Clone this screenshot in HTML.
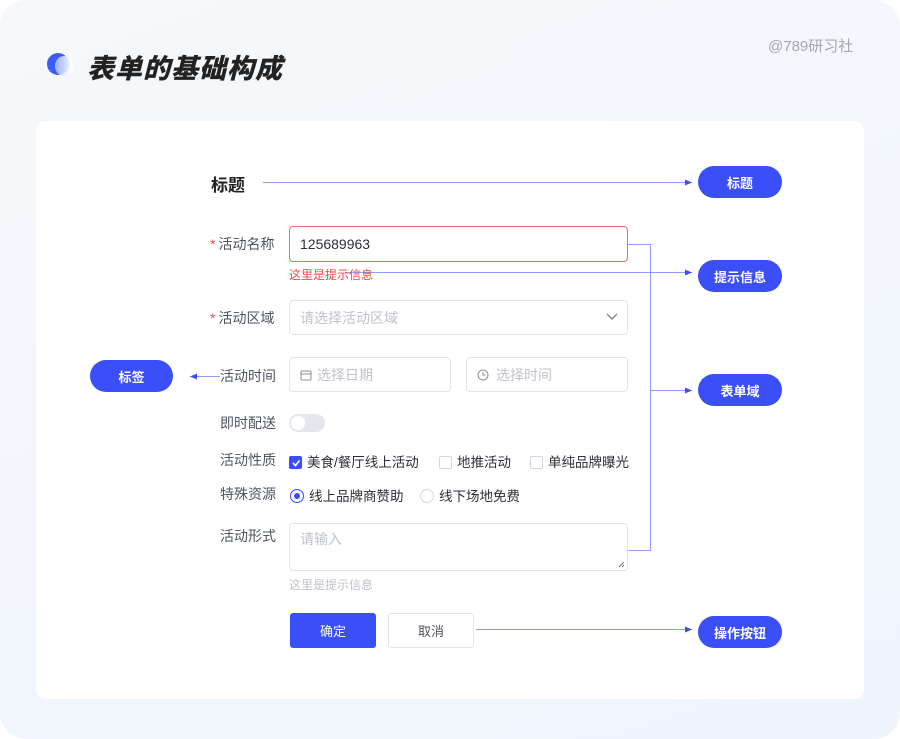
<!DOCTYPE html>
<html><head><meta charset="utf-8"><style>
*{margin:0;padding:0;box-sizing:border-box}
body{width:900px;height:739px;background:#fff;font-family:"Liberation Sans","Noto Sans CJK SC",sans-serif;position:relative;overflow:hidden}
.bg{position:absolute;left:0;top:0;width:900px;height:739px;border-radius:26px;background:linear-gradient(160deg,#f6f8fb,#eef5fc)}
.card{position:absolute;left:36px;top:121px;width:828px;height:578px;background:#fff;border-radius:10px}
.a{position:absolute;white-space:nowrap}
.lbl{position:absolute;font-size:14px;color:#4e5360;white-space:nowrap}
.req{color:#f04a4a;margin-right:3px}
.inp{position:absolute;border:1px solid #e3e5ea;border-radius:4px;background:#fff;font-size:14px;color:#bfc2c9;padding-left:10px;display:flex;align-items:center}
.pill{position:absolute;width:84px;height:32px;border-radius:16px;background:#3a4ff7;color:#fff;font-size:13px;font-weight:bold;display:flex;align-items:center;justify-content:center}
.t{font-size:13.5px;color:#2c2f36}
.cb{display:inline-block;width:13px;height:13px;border:1px solid #d3d6dc;border-radius:2px;vertical-align:-2px;margin-right:5px;background:#fff}
.rd{display:inline-block;width:14px;height:14px;border:1px solid #d3d6dc;border-radius:50%;vertical-align:-2px;margin-right:5px}
</style></head><body>
<div class="bg"></div>
<div class="a" style="left:47px;top:53px;width:22px;height:22px;border-radius:50%;background:#3b5cf5"></div>
<div class="a" style="left:55px;top:56px;width:18px;height:20px;border-radius:50%;background:linear-gradient(90deg,rgba(200,210,255,.7),rgba(255,255,255,.95))"></div>
<div class="a" style="left:87px;top:47px;font-size:27px;font-weight:900;font-style:italic;color:#222;letter-spacing:1px">表单的基础构成</div>
<div class="a" style="left:768px;top:35px;font-size:15px;color:#a4a7b0">@789研习社</div>
<div class="card"></div>

<svg class="a" style="left:0;top:0" width="900" height="739">
<defs><marker id="m" markerWidth="8" markerHeight="8" refX="7" refY="4" orient="auto" markerUnits="userSpaceOnUse"><path d="M0,1 L7,4 L0,7z" fill="#3a4ff7"/></marker></defs>
<g stroke="#8c9cff" stroke-width="1" fill="none">
<line x1="263" y1="182.5" x2="692" y2="182.5" marker-end="url(#m)"/>
<line x1="345" y1="272.5" x2="692" y2="272.5" marker-end="url(#m)"/>
<line x1="220" y1="376.5" x2="190" y2="376.5" marker-end="url(#m)"/>
<line x1="476" y1="629.5" x2="692" y2="629.5" marker-end="url(#m)"/>
<polyline points="628,244.5 650.5,244.5 650.5,550.5 628,550.5"/>
<line x1="650" y1="390.5" x2="692" y2="390.5" marker-end="url(#m)"/>
</g></svg>

<div class="a" style="left:211px;top:171px;font-size:17px;font-weight:bold;color:#222">标题</div>

<div class="lbl" style="left:210px;top:234px"><span class="req">*</span>活动名称</div>
<div class="inp" style="left:289px;top:226px;width:339px;height:36px;border-color:#f06a6a;color:#2c2f36">125689963</div>
<div class="a" style="left:289px;top:266px;font-size:12px;color:#f04a4a">这里是提示信息</div>

<div class="lbl" style="left:210px;top:308px"><span class="req">*</span>活动区域</div>
<div class="inp" style="left:289px;top:300px;width:339px;height:35px">请选择活动区域
<svg style="position:absolute;right:9px;top:12px" width="12" height="8"><path d="M1,1 L6,6 L11,1" stroke="#7a7e88" fill="none" stroke-width="1.3"/></svg></div>

<div class="lbl" style="left:220px;top:366px">活动时间</div>
<div class="inp" style="left:289px;top:357px;width:162px;height:35px"><svg width="12" height="12" style="margin-right:5px"><rect x="1" y="2" width="10" height="9" rx="1" stroke="#8a8e98" fill="none"/><line x1="1" y1="5" x2="11" y2="5" stroke="#8a8e98"/></svg>选择日期</div>
<div class="inp" style="left:466px;top:357px;width:162px;height:35px"><svg width="12" height="12" style="margin-right:7px"><circle cx="6" cy="6" r="5" stroke="#8a8e98" fill="none"/><path d="M6,3 V6 H8.5" stroke="#8a8e98" fill="none"/></svg>选择时间</div>

<div class="lbl" style="left:220px;top:413px">即时配送</div>
<div class="a" style="left:289px;top:414px;width:36px;height:18px;border-radius:9px;background:#e4e6eb"></div>
<div class="a" style="left:291px;top:416px;width:14px;height:14px;border-radius:50%;background:#fff"></div>

<div class="lbl" style="left:220px;top:450px">活动性质</div>
<div class="a t" style="left:289px;top:451px"><span class="cb" style="background:#3a4ff7;border-color:#3a4ff7;position:relative"><svg style="position:absolute;left:1px;top:1px" width="10" height="10"><path d="M2,5 L4.5,7.5 L8.5,2.5" stroke="#fff" stroke-width="1.6" fill="none"/></svg></span>美食/餐厅线上活动</div>
<div class="a t" style="left:439px;top:451px"><span class="cb"></span>地推活动</div>
<div class="a t" style="left:530px;top:451px"><span class="cb"></span>单纯品牌曝光</div>

<div class="lbl" style="left:220px;top:484px">特殊资源</div>
<div class="a t" style="left:290px;top:485px"><span class="rd" style="border-color:#3a4ff7;position:relative"><span style="position:absolute;left:3px;top:3px;width:6px;height:6px;border-radius:50%;background:#3a4ff7"></span></span>线上品牌商赞助</div>
<div class="a t" style="left:420px;top:485px"><span class="rd"></span>线下场地免费</div>

<div class="lbl" style="left:220px;top:526px">活动形式</div>
<div class="inp" style="left:289px;top:523px;width:339px;height:48px;align-items:flex-start;padding-top:5px">请输入
<svg style="position:absolute;right:2px;bottom:2px" width="6" height="6"><path d="M5,0 L0,5 M5,3 L3,5" stroke="#777"/></svg></div>
<div class="a" style="left:289px;top:576px;font-size:12px;color:#bfc2c9">这里是提示信息</div>

<div class="a" style="left:290px;top:613px;width:86px;height:35px;border-radius:3px;background:#3a4ff7;color:#fff;font-size:13px;display:flex;align-items:center;justify-content:center">确定</div>
<div class="a" style="left:388px;top:613px;width:86px;height:35px;border-radius:3px;border:1px solid #e3e5ea;color:#4e5360;font-size:13px;display:flex;align-items:center;justify-content:center">取消</div>

<div class="pill" style="left:698px;top:166px">标题</div>
<div class="pill" style="left:698px;top:260px">提示信息</div>
<div class="pill" style="left:698px;top:374px">表单域</div>
<div class="pill" style="left:698px;top:616px">操作按钮</div>
<div class="pill" style="left:90px;top:360px;width:83px">标签</div>
</body></html>
